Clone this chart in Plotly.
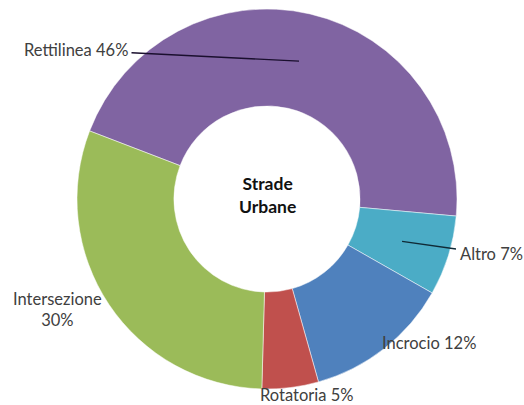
import math
import plotly.graph_objects as go

categories = ["Rettilinea", "Altro", "Incrocio", "Rotatoria", "Intersezione"]
values = [45.6, 6.8, 12.4, 4.8, 30.4]
pct_labels = ["46%", "7%", "12%", "5%", "30%"]
colors = ["#8064A2", "#4BACC6", "#4F81BD", "#C0504D", "#9BBB59"]
center_title = "Strade<br>Urbane"

W, H = 524, 405
CX, CY = 267, 199          # pie centre in pixels (from top-left)
R_OUT = 190
HOLE = 0.49
ROT = 291

fig = go.Figure(go.Pie(
    labels=categories,
    values=values,
    sort=False,
    direction="clockwise",
    rotation=ROT,
    hole=HOLE,
    textinfo="none",
    marker=dict(colors=colors, line=dict(color="white", width=0.5)),
    domain=dict(x=[(CX - R_OUT) / W, (CX + R_OUT) / W],
                y=[1 - (CY + R_OUT) / H, 1 - (CY - R_OUT) / H]),
    showlegend=False,
))

# mid-ring anchor points of each slice (for the leader lines)
total = sum(values)
r_mid = R_OUT * (1 + HOLE) / 2
anchors = []
cum = 0
for v in values:
    th = math.radians(ROT + 360 * (cum + v / 2) / total)
    anchors.append((CX + r_mid * math.sin(th), CY - r_mid * math.cos(th)))
    cum += v

FAM = "Lato, Carlito, Calibri, sans-serif"
font = dict(family=FAM, size=16.5, color="#404040")

def px2paper(x, y):
    return x / W, 1 - y / H

annotations = []
# Rettilinea with leader line
ax_, ay_ = anchors[0]
xp, yp = px2paper(ax_, ay_)
annotations.append(dict(x=xp, y=yp, xref="paper", yref="paper",
                        text=f"{categories[0]} {pct_labels[0]}", showarrow=True,
                        arrowhead=0, arrowwidth=1.3, arrowcolor="#1a0f2e",
                        ax=76 - ax_, ay=50 - ay_, font=font, standoff=0,
                        borderpad=3))
# Altro with leader line
ax_, ay_ = anchors[1]
xp, yp = px2paper(ax_, ay_)
annotations.append(dict(x=xp, y=yp, xref="paper", yref="paper",
                        text=f"{categories[1]} {pct_labels[1]}", showarrow=True,
                        arrowhead=0, arrowwidth=1.3, arrowcolor="#102a36",
                        ax=491 - ax_, ay=254 - ay_, font=font, standoff=0,
                        borderpad=3))
# plain labels
plain = [(2, 429, 343, f"{categories[2]} {pct_labels[2]}"),
         (3, 306, 395, f"{categories[3]} {pct_labels[3]}"),
         (4, 57, 309, f"{categories[4]}<br>{pct_labels[4]}")]
for i, x, y, t in plain:
    xp, yp = px2paper(x, y)
    annotations.append(dict(x=xp, y=yp, xref="paper", yref="paper", text=t,
                            showarrow=False, font=font, xanchor="center",
                            yanchor="middle"))
# centre title
xp, yp = px2paper(CX, CY - 4)
annotations.append(dict(x=xp, y=yp, xref="paper", yref="paper",
                        text=f"<b>{center_title}</b>", showarrow=False,
                        font=dict(family=FAM, size=17.5, color="#111111")))

fig.update_layout(width=W, height=H, margin=dict(l=0, r=0, t=0, b=0),
                  paper_bgcolor="white", plot_bgcolor="white",
                  annotations=annotations)
fig.write_html("out.html", config={"displayModeBar": False},
               post_script="document.body.style.margin='0';document.body.style.overflow='hidden';")
